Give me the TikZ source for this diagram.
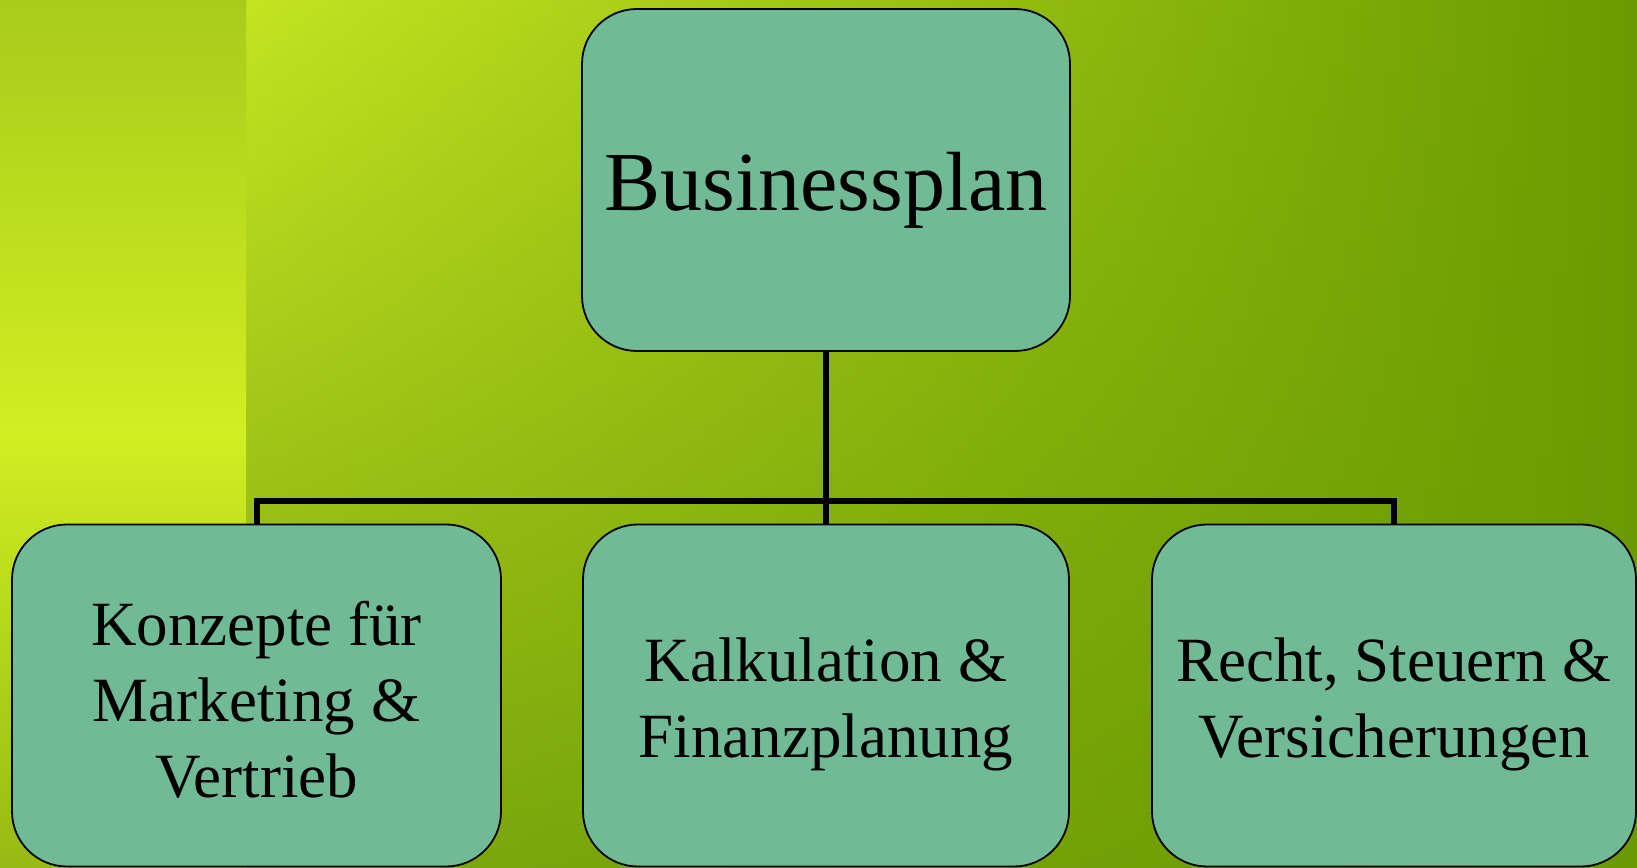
\documentclass[tikz,border=0pt]{standalone}
\usepackage{fontspec}
\setmainfont{Liberation Serif}
\definecolor{boxfill}{RGB}{112,187,150}
\definecolor{sTop}{RGB}{169,203,27}
\definecolor{sMid}{RGB}{208,238,34}
\definecolor{sBot}{RGB}{150,186,20}
\definecolor{mTL}{RGB}{196,228,33}
\definecolor{mTR}{RGB}{105,155,0}
\definecolor{mBL}{RGB}{126,168,15}
\definecolor{mBR}{RGB}{105,155,0}
\begin{document}
\begin{tikzpicture}[x=1pt,y=1pt,
  planbox/.style={draw=black, line width=1.8pt, fill=boxfill, rounded corners=55pt,
    minimum height=342pt, inner sep=0pt, align=center, text=black},
  bigtext/.style={font=\fontsize{84pt}{100pt}\selectfont},
  smalltext/.style={font=\fontsize{63pt}{76pt}\selectfont},
  conn/.style={draw=black, line width=6pt, line join=miter}]
\useasboundingbox (0,0) rectangle (1637,867);
% background
\begin{scope}
  \clip (0,0) rectangle (1637,867);
  \fill[mTR!50!mTL] (246,0) rectangle (1637,867);
  \foreach \i in {0,...,99}{
    \pgfmathsetmacro\xa{246+\i*13.91}
    \pgfmathsetmacro\xb{\xa+14.6}
    \pgfmathsetmacro\p{\i+0.5}
    \colorlet{tcol}{mTR!\p!mTL}
    \colorlet{bcol}{mBR!\p!mBL}
    \shade[top color=tcol, bottom color=bcol] (\xa,0) rectangle (\xb,867);
  }
  \shade[top color=sTop, bottom color=sBot, middle color=sMid] (0,0) rectangle (246,867);
\end{scope}
% boxes
\node[planbox, bigtext, minimum width=488pt, text height=62pt, text depth=0pt] (top) at (826,687) {Businessplan};
\node[planbox, smalltext, minimum width=489pt, text height=203pt, text depth=0pt] (left) at (256.5,171.5) {Konzepte für\\Marketing \&\\Vertrieb};
\node[planbox, smalltext, minimum width=486pt, text height=125pt, text depth=0pt] (mid) at (826,171.5) {Kalkulation \&\\Finanzplanung};
\node[planbox, smalltext, minimum width=484pt, text height=125pt, text depth=0pt] (right) at (1394,171.5) {Recht, Steuern \&\\Versicherungen};
% connectors
\coordinate (bus) at (826,366);
\draw[conn] (top.south) -- (bus);
\draw[conn] (left.north) |- (bus) -| (right.north);
\draw[conn] (bus) -- (mid.north);
\end{tikzpicture}
\end{document}
